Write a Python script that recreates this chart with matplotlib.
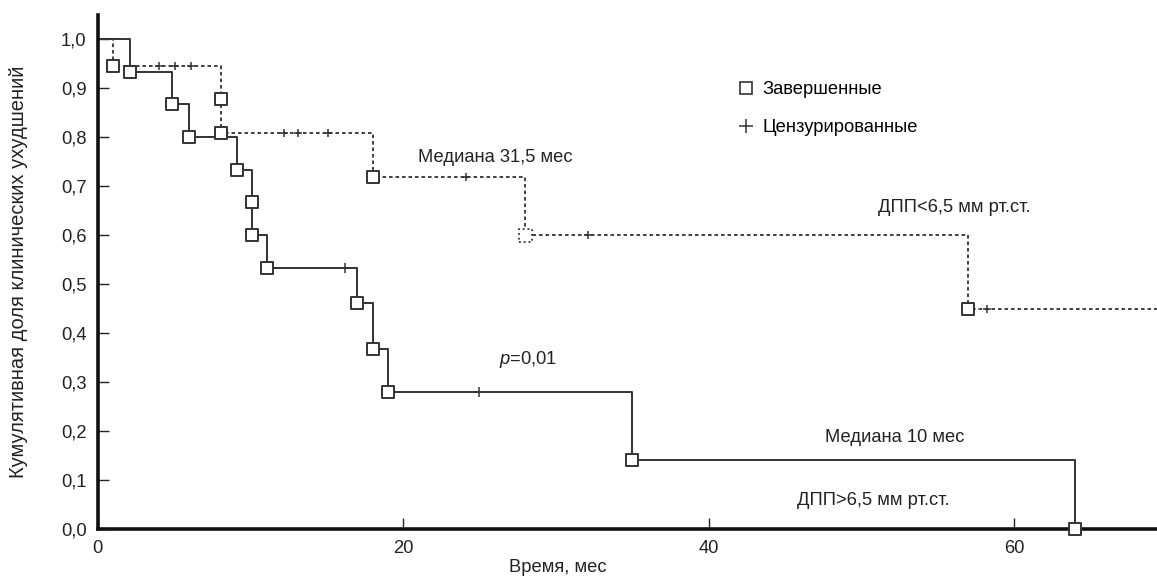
import matplotlib
matplotlib.use("Agg")
import matplotlib.pyplot as plt
from matplotlib.lines import Line2D
from matplotlib.ticker import FuncFormatter

plt.rcParams['font.family'] = ['Liberation Sans', 'DejaVu Sans']
plt.rcParams['mathtext.fontset'] = 'custom'
plt.rcParams['mathtext.it'] = 'Liberation Sans:italic'
plt.rcParams['mathtext.rm'] = 'Liberation Sans'

# ДПП>6,5 мм рт.ст. (сплошная линия)
hi_t = [0, 2.1, 4.9, 6.0, 9.1, 10.1, 10.1, 11.1, 17.0, 18.0, 19.0, 35.0, 64.0]
hi_s = [1.0, 0.933, 0.867, 0.800, 0.733, 0.667, 0.600, 0.533, 0.461, 0.367, 0.280, 0.140, 0.0]
hi_cens_t = [16.2, 25.0]
hi_cens_s = [0.533, 0.280]

# ДПП<6,5 мм рт.ст. (пунктир)
lo_t = [0, 1.0, 8.1, 8.1, 18.0, 28.0, 57.0]
lo_s = [1.0, 0.944, 0.877, 0.809, 0.719, 0.599, 0.449]
lo_end = 70
lo_cens_t = [4.0, 5.1, 6.1, 12.2, 13.1, 15.1, 24.1, 32.1, 58.2]
lo_cens_s = [0.944, 0.944, 0.944, 0.809, 0.809, 0.809, 0.719, 0.599, 0.449]
lo_dotted_event = 28.0

yticks = [0.0, 0.1, 0.2, 0.3, 0.4, 0.5, 0.6, 0.7, 0.8, 0.9, 1.0]
xticks = [0, 20, 40, 60]

col = '#333333'
txt = '#222222'
fs = 13.2
fig = plt.figure(figsize=(11.57, 5.76), dpi=100)
ax = fig.add_axes([0.0843, 0.0816, 0.9157, 0.8924])

# ступенчатые линии
ax.step(hi_t, hi_s, where='post', color=col, lw=1.4, zorder=2)
ax.step(lo_t + [lo_end], lo_s + [lo_s[-1]], where='post', color=col, lw=1.3,
        linestyle=(0, (2, 1.6)), zorder=2)

# завершенные (квадраты)
ax.scatter(hi_t[1:], hi_s[1:], marker='s', s=85, facecolor='white',
           edgecolor=col, linewidth=1.4, zorder=4, clip_on=False)
lo_ev_t = [t for t in lo_t[1:] if t != lo_dotted_event]
lo_ev_s = [s for t, s in zip(lo_t[1:], lo_s[1:]) if t != lo_dotted_event]
ax.scatter(lo_ev_t, lo_ev_s, marker='s', s=85, facecolor='white',
           edgecolor=col, linewidth=1.4, zorder=4)
dot_s = [s for t, s in zip(lo_t, lo_s) if t == lo_dotted_event]
ax.scatter([lo_dotted_event] * len(dot_s), dot_s, marker='s', s=85,
           facecolor='white', edgecolor=col, linewidth=1.3, linestyles=':', zorder=4)

# цензурированные
ax.scatter(hi_cens_t, hi_cens_s, marker='+', s=60, color=col, linewidth=1.1, zorder=3)
ax.scatter(lo_cens_t, lo_cens_s, marker='+', s=40, color=col, linewidth=1.1, zorder=3)

ax.set_xlim(0, 69.35)
ax.set_ylim(0, 1.049)
ax.set_xticks(xticks)
ax.set_yticks(yticks)
ax.yaxis.set_major_formatter(FuncFormatter(lambda v, p: f"{v:.1f}".replace('.', ',')))
ax.tick_params(direction='in', length=8, width=1, labelsize=fs, colors=txt, pad=8)
for s in ['top', 'right']:
    ax.spines[s].set_visible(False)
for s in ['left', 'bottom']:
    ax.spines[s].set_linewidth(2.6)
    ax.spines[s].set_color('#111111')

ax.set_xlabel("Время, мес", fontsize=fs, color=txt)
ax.xaxis.set_label_coords(0.434, -0.058)
ax.set_ylabel("Кумулятивная доля клинических ухудшений", fontsize=14.5, color=txt)
ax.yaxis.set_label_coords(-0.066, 0.5)

ax.text(21.0, 0.759, "Медиана 31,5 мес", fontsize=fs, va='center', color=txt)
ax.text(51.1, 0.657, "ДПП<6,5 мм рт.ст.", fontsize=fs, va='center', color=txt)
ax.text(26.3, 0.345, "$p$=0,01", fontsize=fs, va='center', color=txt)
ax.text(47.6, 0.186, "Медиана 10 мес", fontsize=fs, va='center', color=txt)
ax.text(45.8, 0.059, "ДПП>6,5 мм рт.ст.", fontsize=fs, va='center', color=txt)

handles = [Line2D([], [], marker='s', linestyle='none', markersize=8.5,
                  markerfacecolor='white', markeredgecolor=col, markeredgewidth=1.2),
           Line2D([], [], marker='+', linestyle='none', markersize=10,
                  color=col, markeredgewidth=1.1)]
fig.legend(handles, ["Завершенные", "Цензурированные"], loc='upper left',
           bbox_to_anchor=(728 / 1157, 1 - 72 / 576), frameon=False, fontsize=fs,
           handlelength=1.0, handletextpad=0.4, labelspacing=1.15, borderpad=0)

fig.savefig("out.png", dpi=100)
